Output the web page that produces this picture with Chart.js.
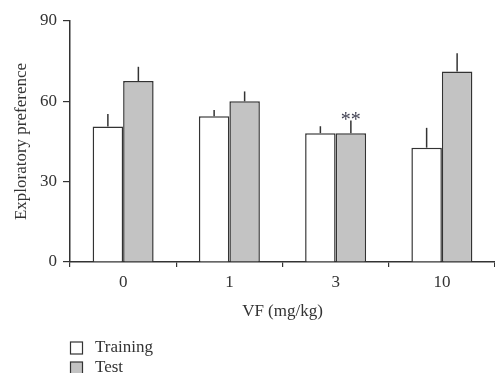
<!DOCTYPE html>
<html>
<head>
<meta charset="utf-8">
<script src="https://cdn.jsdelivr.net/npm/chart.js@4"></script>
<style>
  html, body { margin: 0; padding: 0; background: #fff; }
  #wrap { width: 495px; height: 373px; }
</style>
</head>
<body>
<div id="wrap"><canvas id="myChart"></canvas></div>
<script>
// values
var doses = ['0', '1', '3', '10'];
var training = [50.6, 54.4, 48.1, 42.7];
var trainingErr = [4.7, 2.4, 2.6, 7.4];
var test = [67.6, 60.0, 48.1, 71.1];
var testErr = [5.3, 3.7, 4.7, 6.9];
var yTicks = [0, 30, 60, 90];
var marks = ['', '', '**', '']; // significance marks over the Test bars

var ink = '#333';
var serif = "'Liberation Serif', 'DejaVu Serif', serif";

// upward-only error bars, no caps
var errorBars = {
    id: 'errorBars',
    afterDatasetsDraw: function (chart) {
        var ctx = chart.ctx;
        var y = chart.scales.y;
        chart.data.datasets.forEach(function (ds, i) {
            var meta = chart.getDatasetMeta(i);
            meta.data.forEach(function (bar, j) {
                var top = y.getPixelForValue(ds.data[j] + ds.errors[j]);
                ctx.save();
                ctx.strokeStyle = ink;
                ctx.lineWidth = 1.5;
                ctx.beginPath();
                ctx.moveTo(bar.x, bar.y);
                ctx.lineTo(bar.x, top);
                ctx.stroke();
                if (ds.marks && ds.marks[j]) {
                    ctx.fillStyle = '#445';
                    ctx.font = '20px ' + serif;
                    ctx.textAlign = 'center';
                    ctx.textBaseline = 'alphabetic';
                    ctx.fillText(ds.marks[j], bar.x, top + 5);
                }
                ctx.restore();
            });
        });
    }
};

// stacked legend under the x axis title
var stackedLegend = {
    id: 'stackedLegend',
    afterDraw: function (chart) {
        var ctx = chart.ctx;
        var x0 = chart.chartArea.left + 0.5;
        var y0 = chart.scales.x.bottom + 20;
        chart.data.datasets.forEach(function (ds, i) {
            var yy = y0 + i * 20;
            ctx.save();
            ctx.fillStyle = ds.backgroundColor;
            ctx.strokeStyle = ink;
            ctx.lineWidth = 1.2;
            ctx.fillRect(x0, yy, 12, 12);
            ctx.strokeRect(x0, yy, 12, 12);
            ctx.fillStyle = ink;
            ctx.font = '17px ' + serif;
            ctx.textBaseline = 'middle';
            ctx.fillText(ds.label, x0 + 24.5, yy + 6);
            ctx.restore();
        });
    }
};

document.addEventListener('DOMContentLoaded', function () {
    var ctx = document.getElementById('myChart').getContext('2d');
    new Chart(ctx, {
        type: 'bar',
        data: {
            labels: doses,
            datasets: [{
                label: 'Training',
                data: training,
                errors: trainingErr,
                backgroundColor: '#ffffff',
                borderColor: ink,
                borderWidth: 1.5
            }, {
                label: 'Test',
                data: test,
                errors: testErr,
                marks: marks,
                backgroundColor: '#c3c3c3',
                borderColor: ink,
                borderWidth: 1.5
            }]
        },
        options: {
            responsive: true,
            maintainAspectRatio: false,
            animation: false,
            categoryPercentage: 0.574,
            barPercentage: 1.0,
            layout: { padding: { top: 21, right: 0, bottom: 51, left: 0 } },
            scales: {
                x: {
                    grid: { display: true, drawOnChartArea: false, drawTicks: true, tickLength: 5, color: ink, lineWidth: 1.2 },
                    border: { display: true, color: ink, width: 1.5 },
                    ticks: { color: ink, padding: 5, font: { family: serif, size: 17 } },
                    title: { display: true, text: 'VF (mg/kg)', color: ink, padding: { top: 0, bottom: 0 }, font: { family: serif, size: 17 } },
                    afterFit: function (s) { s.height = 60; }
                },
                y: {
                    min: 0,
                    max: 90,
                    afterBuildTicks: function (s) {
                        s.ticks = yTicks.map(function (v) { return { value: v }; });
                    },
                    grid: { display: true, drawOnChartArea: false, drawTicks: true, tickLength: 7, color: ink, lineWidth: 1.2 },
                    border: { display: true, color: ink, width: 1.5 },
                    ticks: { color: ink, padding: 6, font: { family: serif, size: 17 } },
                    title: { display: true, text: 'Exploratory preference', color: ink, padding: { top: 11, bottom: 0 }, font: { family: serif, size: 17 } },
                    afterFit: function (s) { s.width = 70; }
                }
            },
            plugins: {
                legend: { display: false },
                tooltip: { enabled: false }
            }
        },
        plugins: [errorBars, stackedLegend]
    });
});
</script>
</body>
</html>
